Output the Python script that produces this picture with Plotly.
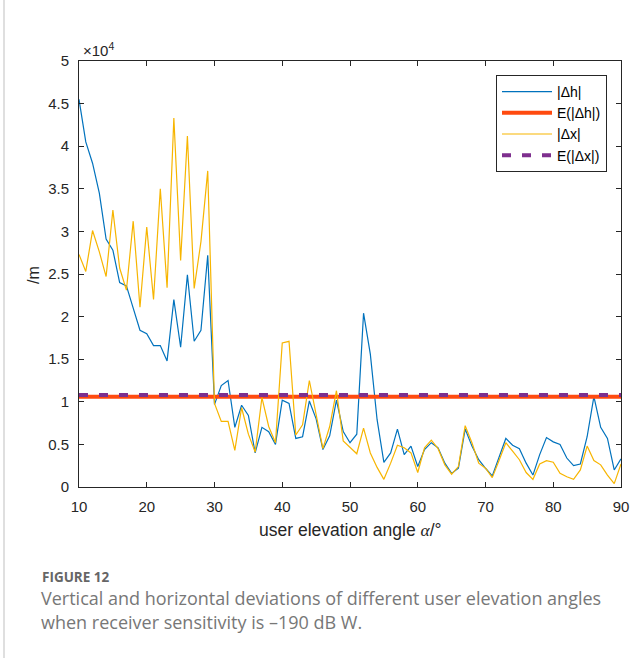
import plotly.graph_objects as go

# ---------------- data (values in units of 1e4 m) ----------------
angles = list(range(10, 91))

dh = [4.55, 4.05, 3.80, 3.45, 2.91, 2.78, 2.40, 2.36, 2.10, 1.84,
      1.80, 1.66, 1.66, 1.48, 2.20, 1.64, 2.49, 1.71, 1.84, 2.72,
      0.97, 1.19, 1.25, 0.70, 0.96, 0.84, 0.40, 0.70, 0.65, 0.50,
      1.02, 0.98, 0.57, 0.59, 1.01, 0.80, 0.44, 0.60, 1.02, 0.65,
      0.52, 0.62, 2.04, 1.56, 0.79, 0.29, 0.40, 0.68, 0.38, 0.48,
      0.24, 0.44, 0.52, 0.46, 0.28, 0.16, 0.22, 0.68, 0.48, 0.32,
      0.22, 0.13, 0.35, 0.57, 0.49, 0.45, 0.28, 0.14, 0.38, 0.58,
      0.53, 0.50, 0.34, 0.25, 0.27, 0.59, 1.06, 0.70, 0.57, 0.20,
      0.33]

dx = [2.73, 2.53, 3.01, 2.76, 2.47, 3.25, 2.57, 2.31, 3.12, 2.11,
      3.05, 2.20, 3.50, 2.34, 4.33, 2.66, 4.12, 2.33, 2.88, 3.71,
      0.98, 0.77, 0.77, 0.43, 0.93, 0.62, 0.41, 1.05, 0.71, 0.52,
      1.69, 1.71, 0.61, 0.73, 1.25, 0.87, 0.45, 0.71, 1.13, 0.54,
      0.47, 0.39, 0.69, 0.40, 0.23, 0.09, 0.28, 0.49, 0.46, 0.40,
      0.17, 0.46, 0.55, 0.45, 0.26, 0.15, 0.24, 0.72, 0.52, 0.28,
      0.22, 0.11, 0.31, 0.52, 0.42, 0.32, 0.17, 0.09, 0.27, 0.31,
      0.29, 0.16, 0.12, 0.09, 0.20, 0.48, 0.31, 0.26, 0.14, 0.04,
      0.27]

mean_dh = 1.06
mean_dx = 1.08

x_ticks = [10, 20, 30, 40, 50, 60, 70, 80, 90]
y_ticks = [0, 0.5, 1, 1.5, 2, 2.5, 3, 3.5, 4, 4.5, 5]
y_tick_text = ["0", "0.5", "1", "1.5", "2", "2.5", "3", "3.5", "4", "4.5", "5"]

names = ["|\u0394h|", "E(|\u0394h|)", "|\u0394x|", "E(|\u0394x|)"]

# ---------------- figure ----------------
W, H = 641, 658
L, R, T, B = 79, 20, 61, 171
PW, PH = W - L - R, H - T - B


def px(x):
    return (x - L) / PW


def py(y):
    return (H - B - y) / PH


fig = go.Figure()
fig.add_trace(go.Scatter(x=angles, y=dh, mode="lines", name=names[0],
                         line=dict(color="#0072BD", width=1.2)))
fig.add_trace(go.Scatter(x=[angles[0], angles[-1]], y=[mean_dh, mean_dh], mode="lines",
                         name=names[1], line=dict(color="#FF4A0F", width=4)))
fig.add_trace(go.Scatter(x=angles, y=dx, mode="lines", name=names[2],
                         line=dict(color="#F7B500", width=1.2)))
fig.add_trace(go.Scatter(x=[angles[0], angles[-1]], y=[mean_dx, mean_dx], mode="lines",
                         name=names[3], line=dict(color="#7E2F8E", width=4, dash="9px,11px")))

axis_font = dict(family="Liberation Sans, Arial, sans-serif", size=15, color="#262626")

fig.update_layout(
    width=W, height=H,
    margin=dict(l=L, r=R, t=T, b=B),
    paper_bgcolor="white", plot_bgcolor="white",
    showlegend=True,
    legend=dict(x=px(607), y=py(75), xanchor="right", yanchor="top",
                bgcolor="white", bordercolor="#262626", borderwidth=1,
                font=dict(family="Liberation Sans, Arial, sans-serif", size=14, color="#000"),
                tracegroupgap=0, itemwidth=50),
    xaxis=dict(range=[10, 90], tickvals=x_ticks, ticktext=[str(v) for v in x_ticks],
               showgrid=False, zeroline=False, showline=True, linecolor="#262626",
               linewidth=1, mirror="ticks", ticks="inside", ticklen=5,
               tickcolor="#262626", tickfont=axis_font, ticklabelstandoff=6),
    yaxis=dict(range=[0, 5], tickvals=y_ticks, ticktext=y_tick_text,
               showgrid=False, zeroline=False, showline=True, linecolor="#262626",
               linewidth=1, mirror="ticks", ticks="inside", ticklen=5,
               tickcolor="#262626", tickfont=axis_font, ticklabelstandoff=6),
)

ann = []
ann.append(dict(x=px(81), y=py(50), xref="paper", yref="paper", xanchor="left", yanchor="middle",
                text="\u00d710<sup>4</sup>", showarrow=False,
                font=dict(family="Liberation Sans, Arial, sans-serif", size=15, color="#262626")))
ann.append(dict(x=px(33), y=py(275), xref="paper", yref="paper", xanchor="center", yanchor="middle",
                text="/m", textangle=-90, showarrow=False,
                font=dict(family="Liberation Sans, Arial, sans-serif", size=16, color="#262626")))
ann.append(dict(x=px(350), y=py(530), xref="paper", yref="paper", xanchor="center", yanchor="middle",
                text="user elevation angle <i><span style=\"font-family:'Liberation Serif',serif\">\u03b1</span></i>/\u00b0",
                showarrow=False,
                font=dict(family="Liberation Sans, Arial, sans-serif", size=17.5, color="#262626")))
ann.append(dict(x=px(40), y=py(577), xref="paper", yref="paper", xanchor="left", yanchor="middle",
                text="<b>FIGURE 12</b>", showarrow=False,
                font=dict(family="Open Sans, sans-serif", size=13.5, color="#666666")))
ann.append(dict(x=px(39), y=py(598), xref="paper", yref="paper", xanchor="left", yanchor="middle",
                text="Vertical and horizontal deviations of different user elevation angles",
                showarrow=False,
                font=dict(family="Open Sans, sans-serif", size=18, color="#777777")))
ann.append(dict(x=px(39), y=py(622), xref="paper", yref="paper", xanchor="left", yanchor="middle",
                text="when receiver sensitivity is \u2013190 dB W.",
                showarrow=False,
                font=dict(family="Open Sans, sans-serif", size=18, color="#777777")))
fig.update_layout(annotations=ann)

fig.add_shape(type="line", xref="paper", yref="paper",
              x0=px(4), x1=px(4), y0=py(0), y1=py(H), line=dict(color="#d4d4d4", width=1.5))

fig.write_html("out.html")
